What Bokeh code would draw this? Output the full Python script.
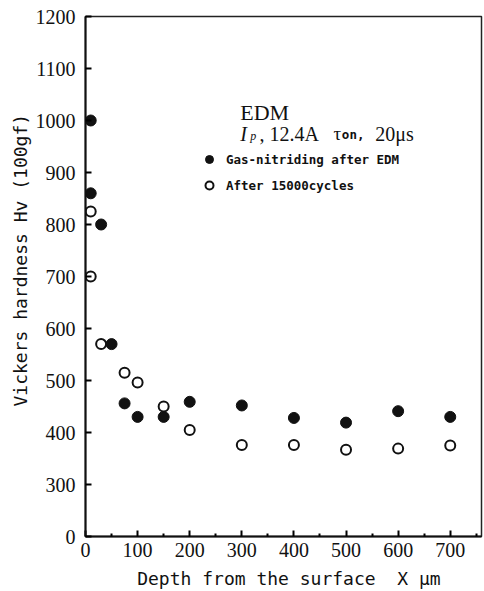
from bokeh.plotting import figure
from bokeh.models import FixedTicker, Label, Legend, LegendItem
from bokeh.embed import file_html
from bokeh.resources import INLINE

# Data (depth in micrometres, Vickers hardness Hv)
nitrided_depth = [10, 10, 30, 50, 75, 100, 150, 200, 300, 400, 500, 600, 700]
nitrided_hv = [1000, 860, 800, 570, 456, 430, 430, 459, 452, 428, 419, 441, 430]
cycled_depth = [10, 10, 30, 75, 100, 150, 200, 300, 400, 500, 600, 700]
cycled_hv = [825, 700, 570, 515, 496, 450, 405, 376, 376, 367, 369, 375]

x_ticks = [0, 100, 200, 300, 400, 500, 600, 700]
x_minor = [50, 150, 250, 350, 450, 550, 650, 750]
y_ticks = [200, 300, 400, 500, 600, 700, 800, 900, 1000, 1100, 1200]
y_labels = {200: "0"}  # broken axis: bottom tick stands for 0

p = figure(width=484, height=591, x_range=(0, 760), y_range=(200, 1200),
           output_backend="svg", toolbar_location=None,
           min_border_left=85, min_border_right=3, min_border_top=16, min_border_bottom=54)
p.grid.visible = False
p.background_fill_color = "white"
p.border_fill_color = "white"
p.outline_line_color = "#222222"
p.outline_line_width = 1.5

SERIF = "Liberation Serif"
MONO = "DejaVu Sans Mono"

p.xaxis.ticker = FixedTicker(ticks=x_ticks, minor_ticks=x_minor)
p.yaxis.ticker = FixedTicker(ticks=y_ticks, minor_ticks=[])
p.yaxis.major_label_overrides = y_labels
for ax in (p.xaxis, p.yaxis):
    ax.axis_line_width = 2
    ax.axis_line_color = "#111111"
    ax.major_tick_in = 6
    ax.major_tick_out = 0
    ax.minor_tick_in = 3
    ax.minor_tick_out = 0
    ax.major_tick_line_width = 2
    ax.minor_tick_line_width = 2
    ax.major_label_text_font = SERIF
    ax.major_label_text_font_size = "20px"
    ax.major_label_text_color = "#111111"
    ax.axis_label_text_font = MONO
    ax.axis_label_text_font_size = "18px"
    ax.axis_label_text_font_style = "normal"
    ax.axis_label_text_color = "#111111"
p.xaxis.major_label_standoff = 6
p.yaxis.major_label_standoff = 10
p.xaxis.axis_label_standoff = 8
p.yaxis.axis_label_standoff = 2
p.xaxis.axis_label = "\u00a0Depth from the surface\u00a0\u00a0X\u00a0\u03bcm"
p.yaxis.axis_label = "\u00a0\u00a0\u00a0Vickers hardness Hv (100gf)"

r1 = p.scatter(nitrided_depth, nitrided_hv, size=11, marker="circle",
               fill_color="#111111", line_color="#111111")
r2 = p.scatter(cycled_depth, cycled_hv, size=10, marker="circle",
               fill_color="white", line_color="#111111", line_width=2)

legend = Legend(items=[LegendItem(label="Gas-nitriding after EDM", renderers=[r1]),
                       LegendItem(label="After 15000cycles", renderers=[r2])],
                location=(114, 341), border_line_color=None, background_fill_alpha=0,
                padding=0, margin=0, spacing=6, label_standoff=7,
                label_text_font=MONO, label_text_font_style="bold",
                label_text_font_size="12.5px", label_text_color="#111111")
p.add_layout(legend, "center")


def lab(x, y, text, font, size, style="normal"):
    p.add_layout(Label(x=x, y=y, text=text, text_font=font, text_font_size=size,
                       text_font_style=style, text_baseline="alphabetic",
                       text_color="#111111"))


lab(297, 1015, "EDM", SERIF, "22px")
lab(297, 975, "I", SERIF, "20px", "italic")
lab(316, 970, "p", SERIF, "12px", "italic")
lab(334, 975, ", 12.4A", SERIF, "20px")
lab(476, 975, "\u03c4", SERIF, "19px")
lab(492, 974, "on,", MONO, "12.5px", "bold")
lab(556, 975, "20\u03bcs", SERIF, "20px")

open("out.html", "w").write(file_html(p, INLINE))
